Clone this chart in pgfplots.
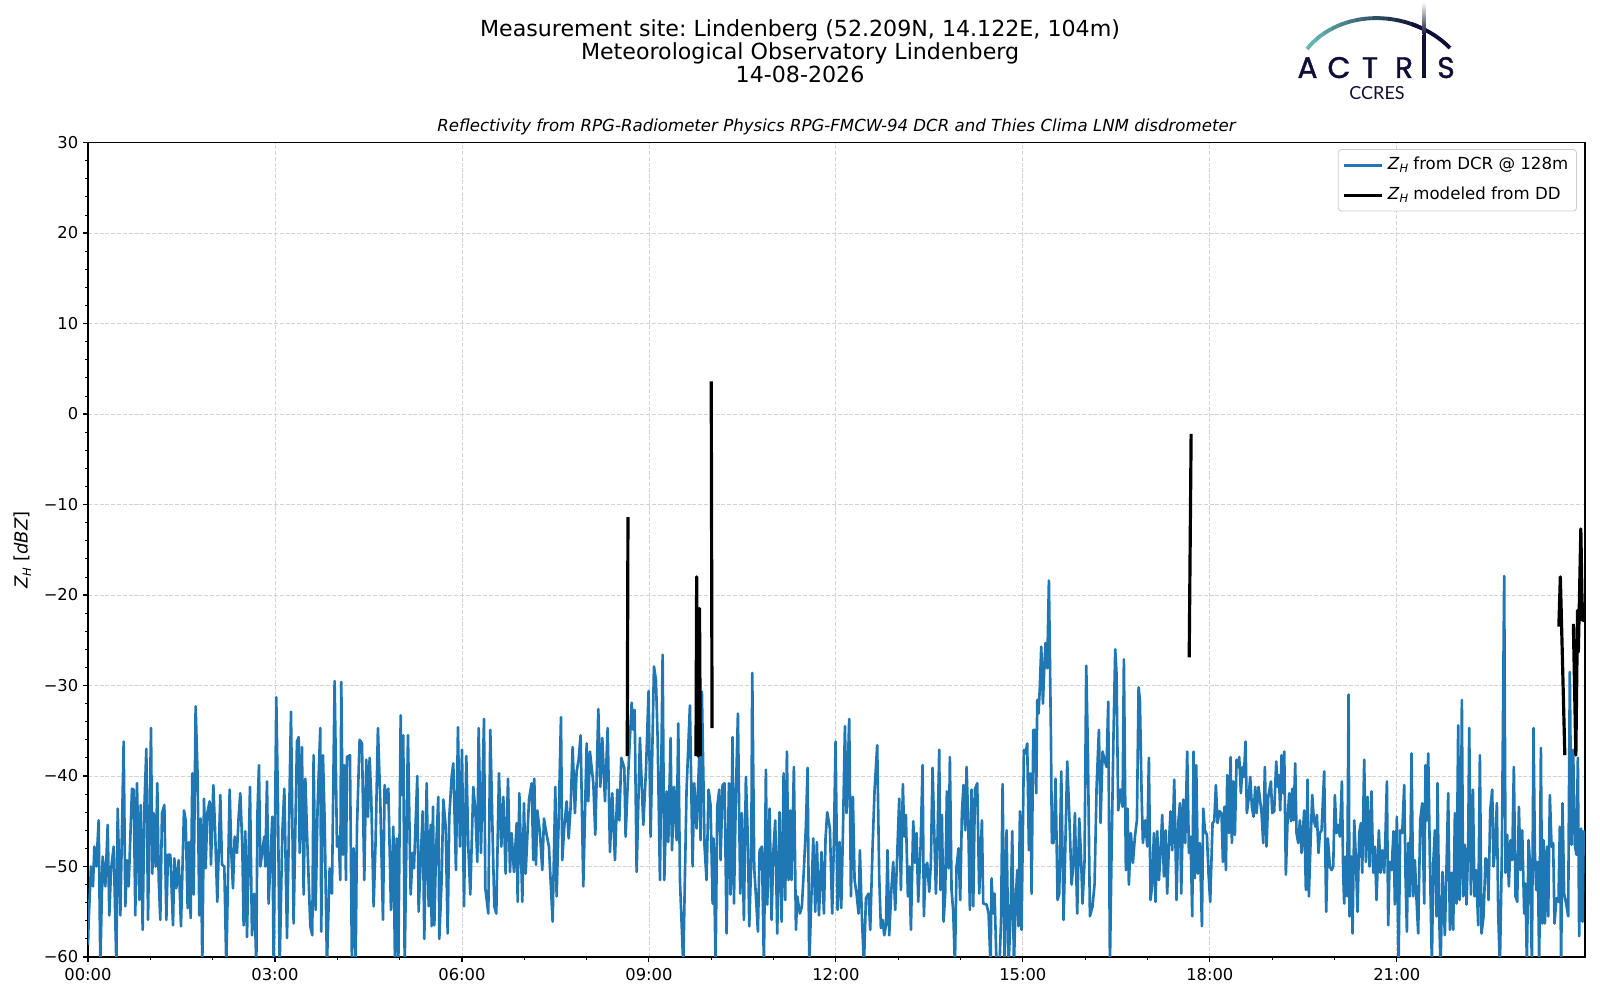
\documentclass[border=0pt]{standalone}
\usepackage{fontspec}
\setmainfont{DejaVu Sans}
\newfontfamily\logofont[FakeBold=1.3]{Poppins}
\newfontfamily\logofontb{Lato}
\usepackage{pgfplots}
\pgfplotsset{compat=1.18}
\usepackage{pgfplotstable}
\frenchspacing
\definecolor{mplblue}{HTML}{1F77B4}
\definecolor{gridgray}{HTML}{D3D3D3}
\definecolor{legedge}{HTML}{CCCCCC}
\definecolor{navy}{HTML}{0E0E36}
\definecolor{tealc}{HTML}{6CC3BA}
\newcommand{\ZH}{\textit{Z}\raisebox{-0.35ex}{\fontsize{8.3}{8}\selectfont\textit{H}}}

\pgfplotstableread{
x y
0.000 -58.7
0.011 -55.9
0.048 -50.0
0.080 -52.2
0.102 -47.8
0.134 -50.0
0.171 -44.9
0.198 -61
0.235 -48.9
0.278 -52.2
0.316 -45.4
0.342 -55.4
0.369 -50.4
0.412 -47.8
0.455 -61
0.476 -43.6
0.519 -55.4
0.572 -36.2
0.599 -54.4
0.626 -49.3
0.652 -52.2
0.706 -41.4
0.733 -41.5
0.759 -55.4
0.786 -40.8
0.824 -53.7
0.845 -43.2
0.877 -57.0
0.904 -43.6
0.936 -37.0
0.963 -55.9
1.011 -34.7
1.032 -50.8
1.053 -44.1
1.086 -50.0
1.112 -40.8
1.134 -51.3
1.160 -55.9
1.187 -44.1
1.225 -43.2
1.257 -55.9
1.283 -48.7
1.321 -48.7
1.364 -56.5
1.385 -49.1
1.417 -52.4
1.455 -49.3
1.492 -56.6
1.540 -43.8
1.567 -44.9
1.599 -54.6
1.620 -47.3
1.647 -55.7
1.674 -39.7
1.695 -53.1
1.727 -32.3
1.759 -40.1
1.786 -55.4
1.807 -44.7
1.834 -61
1.861 -42.5
1.888 -50.2
1.914 -44.1
1.952 -42.8
1.973 -49.8
2.011 -41.0
2.037 -45.6
2.075 -53.9
2.123 -42.1
2.150 -49.8
2.187 -50.0
2.219 -61
2.273 -41.5
2.299 -48.4
2.326 -52.4
2.353 -46.7
2.390 -48.5
2.417 -44.5
2.444 -41.9
2.476 -47.8
2.497 -56.5
2.524 -46.1
2.551 -57.8
2.599 -41.2
2.631 -57.6
2.668 -53.0
2.701 -61
2.717 -44.5
2.743 -38.8
2.765 -50.0
2.829 -46.7
2.845 -50.0
2.872 -40.6
2.898 -54.1
2.957 -44.5
2.979 -61
3.021 -31.3
3.048 -43.2
3.075 -61
3.118 -46.3
3.150 -41.4
3.193 -57.9
3.257 -32.9
3.299 -56.3
3.353 -36.2
3.380 -35.7
3.396 -48.5
3.433 -36.8
3.460 -53.1
3.487 -40.3
3.513 -46.1
3.567 -56.6
3.599 -57.6
3.620 -37.7
3.652 -54.8
3.684 -43.4
3.727 -34.7
3.743 -57.2
3.770 -37.7
3.797 -44.9
3.834 -61
3.877 -50.2
3.914 -53.0
3.957 -29.5
3.995 -47.8
4.021 -46.7
4.048 -51.5
4.064 -29.6
4.091 -48.7
4.112 -38.8
4.139 -51.5
4.155 -37.9
4.203 -37.7
4.235 -61
4.262 -48.0
4.294 -61
4.316 -45.6
4.358 -36.0
4.396 -36.4
4.433 -51.5
4.465 -38.2
4.492 -44.5
4.519 -38.0
4.545 -42.5
4.583 -54.4
4.615 -47.1
4.652 -34.7
4.690 -42.8
4.733 -55.9
4.759 -41.0
4.797 -43.0
4.819 -41.4
4.861 -54.8
4.899 -45.6
4.926 -61
4.952 -46.9
4.979 -61
5.017 -33.3
5.033 -42.1
5.059 -35.5
5.081 -61
5.134 -35.5
5.177 -53.1
5.209 -48.5
5.230 -50.2
5.284 -40.0
5.305 -55.0
5.370 -43.9
5.396 -58.0
5.434 -40.8
5.466 -54.4
5.498 -45.4
5.514 -56.6
5.535 -43.4
5.557 -56.5
5.583 -48.5
5.621 -42.3
5.637 -58.0
5.674 -51.5
5.701 -42.6
5.739 -45.6
5.771 -57.4
5.797 -44.5
5.835 -40.1
5.861 -38.6
5.904 -50.4
5.936 -34.6
5.968 -47.8
6.001 -37.1
6.033 -54.4
6.070 -37.8
6.102 -47.8
6.134 -53.1
6.182 -41.2
6.215 -43.8
6.247 -49.5
6.268 -34.7
6.305 -48.5
6.354 -33.7
6.375 -52.4
6.423 -55.2
6.455 -34.9
6.487 -44.9
6.519 -54.4
6.551 -55.2
6.594 -39.7
6.632 -47.8
6.664 -42.3
6.701 -50.8
6.739 -40.3
6.771 -50.6
6.797 -46.3
6.835 -50.6
6.878 -45.2
6.894 -53.9
6.921 -41.9
6.969 -53.9
6.995 -43.0
7.022 -50.8
7.076 -42.6
7.118 -40.8
7.145 -49.3
7.161 -40.3
7.188 -49.8
7.209 -43.8
7.252 -46.3
7.289 -50.4
7.316 -44.7
7.359 -46.5
7.396 -47.8
7.455 -56.1
7.498 -41.2
7.519 -53.3
7.551 -45.2
7.589 -33.5
7.610 -49.3
7.642 -45.6
7.680 -42.8
7.712 -46.9
7.744 -43.4
7.776 -36.8
7.813 -44.1
7.840 -39.5
7.872 -38.2
7.904 -35.5
7.947 -52.2
8.001 -36.4
8.027 -42.8
8.054 -37.3
8.108 -40.8
8.140 -46.5
8.188 -32.6
8.220 -41.2
8.252 -35.8
8.295 -42.8
8.338 -34.7
8.375 -48.4
8.412 -41.9
8.455 -49.3
8.493 -41.5
8.525 -44.9
8.557 -38.0
8.605 -39.1
8.626 -46.7
8.658 -41.2
8.723 -31.9
8.749 -34.9
8.771 -32.7
8.803 -50.6
8.856 -35.8
8.910 -45.4
8.953 -39.3
8.995 -30.6
9.027 -46.7
9.081 -27.9
9.113 -29.4
9.140 -35.8
9.177 -51.5
9.220 -26.6
9.247 -51.5
9.284 -41.7
9.311 -47.3
9.348 -35.8
9.370 -48.2
9.407 -41.2
9.445 -47.1
9.471 -34.2
9.498 -51.5
9.551 -61
9.604 -41.5
9.658 -32.2
9.701 -50.0
9.727 -40.8
9.765 -45.8
9.808 -37.7
9.829 -47.1
9.850 -30.7
9.893 -47.8
9.925 -51.5
9.957 -41.5
9.989 -43.2
10.022 -54.1
10.038 -46.9
10.070 -61
10.096 -43.4
10.129 -41.5
10.150 -49.3
10.182 -41.0
10.214 -40.8
10.246 -57.4
10.284 -40.8
10.310 -53.1
10.342 -35.7
10.364 -54.1
10.396 -41.9
10.428 -33.1
10.465 -53.0
10.492 -44.1
10.524 -55.9
10.556 -40.1
10.588 -47.1
10.610 -56.6
10.642 -49.3
10.658 -28.6
10.690 -50.2
10.717 -53.3
10.749 -57.2
10.776 -48.2
10.813 -47.8
10.845 -61
10.877 -39.3
10.899 -54.2
10.936 -43.6
10.968 -55.9
10.995 -48.5
11.027 -44.9
11.059 -57.4
11.096 -44.0
11.129 -56.1
11.161 -39.7
11.187 -53.7
11.214 -37.3
11.241 -51.5
11.268 -43.8
11.289 -51.5
11.326 -39.0
11.359 -57.0
11.380 -53.3
11.423 -55.2
11.455 -54.4
11.487 -50.2
11.519 -45.6
11.546 -39.1
11.573 -61
11.605 -53.7
11.637 -46.9
11.669 -55.0
11.695 -47.3
11.728 -55.4
11.770 -48.4
11.808 -55.2
11.834 -46.9
11.861 -44.0
11.904 -45.8
11.941 -55.2
11.968 -47.3
11.995 -36.2
12.027 -54.8
12.059 -47.3
12.086 -54.6
12.113 -46.3
12.145 -34.5
12.171 -44.1
12.214 -33.7
12.241 -53.3
12.273 -42.3
12.300 -51.5
12.332 -53.0
12.364 -55.2
12.385 -48.2
12.417 -55.5
12.450 -61
12.482 -53.5
12.524 -53.0
12.551 -57.0
12.589 -47.8
12.621 -41.5
12.663 -36.6
12.695 -51.1
12.722 -56.8
12.749 -55.9
12.776 -57.6
12.803 -56.5
12.829 -48.2
12.856 -57.6
12.888 -52.8
12.920 -49.5
12.952 -54.8
12.984 -48.7
13.016 -42.5
13.043 -52.6
13.075 -40.9
13.097 -46.7
13.123 -44.3
13.155 -53.3
13.177 -50.0
13.204 -57.0
13.241 -45.0
13.268 -49.6
13.295 -46.3
13.321 -53.9
13.359 -47.8
13.391 -38.8
13.412 -55.5
13.439 -50.0
13.466 -49.6
13.498 -52.8
13.524 -49.6
13.551 -39.1
13.578 -46.1
13.605 -53.0
13.631 -46.9
13.658 -37.1
13.679 -52.6
13.701 -44.3
13.728 -56.1
13.754 -53.0
13.781 -41.7
13.808 -50.2
13.829 -37.9
13.856 -52.6
13.883 -55.0
13.910 -61
13.936 -50.0
13.968 -48.0
13.995 -53.7
14.022 -44.1
14.048 -41.0
14.075 -46.0
14.097 -39.0
14.123 -44.9
14.150 -54.8
14.177 -41.5
14.204 -54.4
14.231 -41.5
14.268 -40.8
14.300 -53.0
14.343 -44.9
14.364 -54.1
14.418 -54.2
14.450 -55.2
14.482 -61
14.498 -51.3
14.525 -55.2
14.546 -53.0
14.578 -61
14.625 -61
14.650 -56.0
14.675 -40.9
14.707 -61
14.739 -46.0
14.771 -61
14.803 -55.5
14.830 -46.1
14.856 -61
14.888 -53.3
14.910 -50.4
14.931 -56.6
14.953 -43.9
14.979 -57.0
15.017 -37.1
15.044 -37.5
15.070 -36.4
15.097 -48.2
15.118 -39.7
15.140 -53.0
15.167 -34.9
15.193 -34.9
15.215 -41.9
15.231 -31.6
15.252 -33.1
15.273 -30.1
15.295 -25.7
15.322 -32.0
15.343 -28.1
15.364 -25.3
15.391 -28.1
15.418 -18.4
15.450 -35.3
15.466 -47.4
15.493 -47.4
15.525 -40.3
15.557 -53.7
15.584 -53.0
15.616 -39.5
15.653 -55.9
15.680 -48.2
15.712 -38.4
15.750 -45.2
15.782 -52.0
15.808 -50.0
15.835 -44.1
15.872 -55.2
15.905 -44.7
15.931 -48.5
15.958 -54.1
15.990 -49.3
16.017 -27.8
16.044 -37.5
16.076 -55.5
16.118 -54.4
16.151 -51.9
16.183 -41.2
16.220 -34.9
16.247 -45.2
16.279 -37.3
16.311 -38.2
16.343 -39.0
16.370 -31.8
16.397 -61
16.423 -48.5
16.455 -35.3
16.482 -26.0
16.503 -28.7
16.530 -43.8
16.568 -41.5
16.600 -43.4
16.621 -27.1
16.653 -50.4
16.680 -43.6
16.701 -52.0
16.733 -46.3
16.766 -49.6
16.798 -46.7
16.830 -44.9
16.857 -30.2
16.878 -31.6
16.905 -41.9
16.926 -47.4
16.963 -44.9
16.996 -47.8
17.022 -38.0
17.049 -53.7
17.076 -51.9
17.103 -46.3
17.129 -53.9
17.156 -46.1
17.183 -51.5
17.209 -48.5
17.236 -44.3
17.263 -51.1
17.290 -46.0
17.316 -53.0
17.349 -46.7
17.370 -43.9
17.397 -48.2
17.429 -40.4
17.466 -53.7
17.493 -45.2
17.520 -43.0
17.541 -53.0
17.573 -42.6
17.605 -47.4
17.637 -37.3
17.664 -48.5
17.691 -46.7
17.718 -55.5
17.739 -37.3
17.760 -51.3
17.782 -38.8
17.808 -50.8
17.840 -47.4
17.873 -56.6
17.894 -43.6
17.921 -46.0
17.953 -46.5
17.980 -50.9
18.006 -53.9
18.044 -45.2
18.071 -45.0
18.097 -41.0
18.124 -45.2
18.156 -43.9
18.188 -44.1
18.210 -49.5
18.236 -43.4
18.258 -50.4
18.279 -39.9
18.306 -46.3
18.333 -37.9
18.354 -47.4
18.375 -40.6
18.402 -46.5
18.429 -38.2
18.450 -39.0
18.472 -37.9
18.498 -41.9
18.525 -39.0
18.546 -40.1
18.573 -36.2
18.594 -44.1
18.621 -42.6
18.648 -40.1
18.675 -43.4
18.701 -44.5
18.728 -41.2
18.750 -44.1
18.782 -41.2
18.830 -44.1
18.857 -47.4
18.883 -39.0
18.910 -47.8
18.937 -42.3
18.980 -40.6
19.001 -44.1
19.033 -43.9
19.065 -38.4
19.087 -41.2
19.108 -39.9
19.129 -43.8
19.151 -37.7
19.178 -41.9
19.194 -37.3
19.220 -50.9
19.247 -44.9
19.274 -41.9
19.301 -45.0
19.322 -41.4
19.343 -44.9
19.370 -38.6
19.391 -46.3
19.418 -47.4
19.445 -44.9
19.472 -48.5
19.514 -43.8
19.541 -52.6
19.568 -40.4
19.589 -53.3
19.616 -47.4
19.643 -42.1
19.670 -44.9
19.696 -45.6
19.718 -44.3
19.744 -48.5
19.766 -46.3
19.793 -46.0
19.835 -39.5
19.867 -55.0
19.894 -46.9
19.926 -50.0
19.953 -50.4
19.980 -50.0
20.006 -42.1
20.033 -46.3
20.060 -45.4
20.087 -46.7
20.119 -40.6
20.140 -50.9
20.156 -54.1
20.183 -48.9
20.204 -53.3
20.226 -31.0
20.242 -55.5
20.269 -48.9
20.290 -57.4
20.317 -44.9
20.343 -49.1
20.370 -55.0
20.397 -46.3
20.424 -45.2
20.445 -50.7
20.477 -38.2
20.504 -49.5
20.531 -42.3
20.563 -50.0
20.595 -41.7
20.621 -50.7
20.648 -47.8
20.675 -53.7
20.712 -46.0
20.739 -50.7
20.766 -48.2
20.798 -50.7
20.819 -46.3
20.841 -40.6
20.862 -56.5
20.884 -49.5
20.916 -50.4
20.948 -46.1
20.969 -54.2
21.001 -44.5
21.028 -61
21.055 -46.0
21.087 -46.3
21.119 -41.0
21.140 -51.1
21.162 -57.2
21.183 -47.4
21.210 -53.3
21.236 -37.5
21.263 -53.3
21.290 -49.3
21.317 -53.7
21.343 -57.4
21.376 -44.9
21.408 -43.0
21.440 -54.1
21.461 -38.8
21.483 -44.9
21.504 -37.5
21.531 -49.3
21.563 -61
21.584 -49.8
21.611 -46.0
21.637 -55.5
21.654 -40.8
21.680 -55.5
21.702 -61
21.734 -50.6
21.771 -57.6
21.798 -50.0
21.825 -41.9
21.852 -57.0
21.878 -50.7
21.905 -57.0
21.932 -44.1
21.958 -54.1
21.985 -34.4
22.007 -53.7
22.028 -47.8
22.044 -31.6
22.065 -53.3
22.092 -47.6
22.119 -54.2
22.146 -47.3
22.162 -34.7
22.189 -53.1
22.221 -41.5
22.247 -53.3
22.274 -50.4
22.306 -56.5
22.333 -37.7
22.360 -57.4
22.392 -55.5
22.424 -49.1
22.451 -49.3
22.472 -53.7
22.499 -43.8
22.531 -41.5
22.552 -50.0
22.574 -48.2
22.606 -43.0
22.627 -55.2
22.654 -61
22.686 -48.5
22.723 -17.9
22.745 -50.7
22.771 -46.5
22.798 -52.2
22.825 -47.1
22.852 -49.3
22.878 -39.0
22.905 -53.3
22.932 -53.9
22.959 -43.4
22.985 -50.4
23.012 -46.0
23.044 -55.2
23.065 -51.9
23.087 -61
23.114 -47.1
23.140 -50.0
23.167 -61
23.194 -34.7
23.215 -48.2
23.237 -52.6
23.263 -49.5
23.285 -61
23.312 -36.9
23.333 -56.3
23.354 -47.1
23.376 -56.3
23.408 -47.8
23.429 -55.5
23.456 -42.1
23.483 -47.8
23.509 -47.4
23.530 -56.3
23.562 -53.5
23.594 -53.9
23.616 -45.6
23.637 -61
23.659 -43.0
23.685 -53.0
23.717 -54.1
23.750 -55.5
23.776 -28.5
23.803 -47.6
23.830 -37.1
23.856 -47.6
23.883 -48.7
23.905 -38.0
23.926 -57.7
23.958 -45.8
23.980 -56.1
24.000 -46.0
}\bluedata

\pgfplotstableread{
x y
8.652 -37.8
8.664 -11.4
nan nan
9.755 -37.8
9.766 -18.0
9.790 -37.8
9.812 -21.5
9.825 -37.8
nan nan
10.000 3.6
10.013 -34.7
nan nan
17.669 -26.9
17.700 -2.2
nan nan
23.600 -23.5
23.624 -18.0
23.656 -26.6
23.696 -37.7
nan nan
23.833 -23.2
23.873 -37.7
23.900 -21.7
23.913 -26.3
23.953 -12.7
23.977 -22.8
24.000 -21.0
24.015 -23.0
}\blackdata

\begin{document}
\begin{tikzpicture}
\path[use as bounding box] (0pt,0pt) rectangle (1156.32pt,722.7pt);

\begin{axis}[
  at={(63.6pt,31.08pt)}, anchor=south west,
  scale only axis, width=1081.9pt, height=588.6pt,
  xmin=0, xmax=24.02, ymin=-60, ymax=30,
  xtick={0,3,...,21},
  xticklabels={00:00,03:00,06:00,09:00,12:00,15:00,18:00,21:00},
  ytick={-60,-50,...,30},
  yticklabels={−60,−50,−40,−30,−20,−10,0,10,20,30},
  minor x tick num=2, minor y tick num=4,
  tick align=outside, xtick pos=bottom, ytick pos=left,
  major tick length=3.5pt, minor tick length=2pt,
  every tick/.append style={black, line width=0.8pt},
  every minor tick/.append style={black, line width=0.6pt},
  xmajorgrids, ymajorgrids,
  major grid style={gridgray, dash pattern=on 2.9pt off 1.3pt, line width=0.6pt},
  axis line style={line width=0.8pt},
  tick label style={font=\fontsize{11.8}{13}\selectfont},
  xticklabel style={yshift=-1.5pt},
  unbounded coords=jump,
  legend cell align=left,
  legend style={at={(1,1)}, anchor=north east, xshift=-5.8pt, yshift=-4.7pt,
    draw=legedge, rounded corners=2.5pt, line width=0.6pt,
    font=\fontsize{12}{13}\selectfont,
    inner xsep=3pt, inner ysep=4pt, row sep=6.5pt,
    nodes={text height=8.5pt, text depth=2.5pt, inner ysep=2pt, inner xsep=3pt},
    /tikz/every even column/.append style={column sep=4pt}},
  legend image code/.code={\draw[#1] (0pt,0pt) -- (27.5pt,0pt);},
]
\addplot[mplblue, line width=1.9pt, line join=round] table[x=x,y=y] {\bluedata};
\addlegendentry{\ZH{} from DCR @ 128m}
\addplot[black, line width=2.3pt, line join=round] table[x=x,y=y] {\blackdata};
\addlegendentry{\ZH{} modeled from DD}
\end{axis}

% titles
\node[font=\fontsize{16}{18}\selectfont, anchor=base] at (578.2pt,696.3pt) {Measurement site: Lindenberg (52.209N, 14.122E, 104m)};
\node[font=\fontsize{16}{18}\selectfont, anchor=base] at (578.2pt,680.0pt) {Meteorological Observatory Lindenberg};
\node[font=\fontsize{16}{18}\selectfont, anchor=base] at (578.2pt,663.0pt) {14-08-2026};
\node[font=\fontsize{12}{14}\selectfont\itshape, anchor=base] at (604.5pt,627.6pt) {Reflectivity from RPG-Radiometer Physics RPG-FMCW-94 DCR and Thies Clima LNM disdrometer};
\node[rotate=90, font=\fontsize{13}{14}\selectfont] at (16.3pt,325.2pt) {\ZH{} [\textit{dBZ}]};

% logo
\begin{scope}[x=0.7227pt, y=-0.7227pt, yshift=722.7pt]
  \foreach \i in {0,...,14} {
    \pgfmathsetmacro{\xa}{1300+\i*8}
    \pgfmathsetmacro{\xb}{1300+\i*8+8.5}
    \pgfmathsetmacro{\pc}{100-\i*100/14}
    \begin{scope}
      \clip (\xa,0) rectangle (\xb,100);
      \draw[tealc!\pc!navy, line width=2.8pt] (1307,49) .. controls (1340,8) and (1410,8) .. (1450,48);
    \end{scope}
  }
  \begin{scope}
    \clip (1412,0) rectangle (1470,100);
    \draw[navy, line width=2.8pt] (1307,49) .. controls (1340,8) and (1410,8) .. (1450,48);
  \end{scope}
  \shade[top color=white, bottom color=navy] (1422.6,2) rectangle (1425.9,35);
  \fill[navy] (1422.3,35) rectangle (1426.2,78);
  \node[text=navy, font=\logofont\fontsize{21.5}{21}\selectfont, anchor=base, inner sep=0pt] at (1307.5,78) {A};
  \node[text=navy, font=\logofont\fontsize{21.5}{21}\selectfont, anchor=base, inner sep=0pt] at (1339,78) {C};
  \node[text=navy, font=\logofont\fontsize{21.5}{21}\selectfont, anchor=base, inner sep=0pt] at (1370,78) {T};
  \node[text=navy, font=\logofont\fontsize{21.5}{21}\selectfont, anchor=base, inner sep=0pt] at (1404,78) {R};
  \node[text=navy, font=\logofont\fontsize{21.5}{21}\selectfont, anchor=base, inner sep=0pt] at (1446,78) {S};
  \node[text=navy, font=\logofontb\fontsize{13}{13}\selectfont, anchor=base, inner sep=0pt] at (1377,100) {CCRES};
\end{scope}
\end{tikzpicture}
\end{document}
